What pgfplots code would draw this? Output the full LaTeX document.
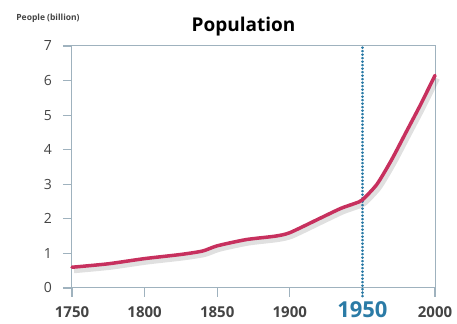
\documentclass[border=0pt]{standalone}
\usepackage{fontspec}
\setmainfont{Open Sans}
\usepackage{pgfplots}
\pgfplotsset{compat=1.18}
\definecolor{axisgray}{HTML}{9FB2BE}
\definecolor{popred}{HTML}{C7305E}
\definecolor{dotblue}{HTML}{2B7BA6}
\definecolor{labgray}{HTML}{444444}
\begin{document}
\begin{tikzpicture}
\begin{axis}[
  name=ax, scale only axis, width=363pt, height=242pt,
  xmin=1750, xmax=2000, ymin=0, ymax=7,
  axis line style={axisgray, line width=1pt},
  tick style={axisgray, line width=1.2pt},
  tick align=outside, major tick length=9pt,
  xtick pos=bottom, ytick pos=left,
  xtick={1750,1800,1850,1900,1950,2000},
  xticklabels={1750,1800,1850,1900,{\fontsize{22}{22}\selectfont\textcolor{dotblue}{1950}},2000},
  xticklabel style={anchor=base, yshift=-21pt, font=\bfseries\fontsize{15}{15}\selectfont, text=labgray},
  ytick={0,...,7},
  yticklabel style={anchor=east, inner sep=0pt, xshift=-11pt, font=\fontsize{14}{14}\selectfont, text=labgray},
  /pgf/number format/assume math mode=true,
  clip=false,
]
\addplot[black, opacity=0.12, line width=6pt, smooth, tension=0.4, yshift=-3pt, xshift=2pt, forget plot] coordinates {
(1750,0.6)(1775,0.7)(1800,0.85)(1825,0.97)(1840,1.07)(1850,1.22)(1870,1.4)(1890,1.5)(1900,1.6)(1920,2.0)(1935,2.3)(1945,2.45)(1950,2.55)(1960,3.0)(1970,3.7)(1980,4.5)(1990,5.3)(2000,6.15)};
\addplot[dotblue, line width=2.4pt, line cap=round, dash pattern=on 0.3pt off 3.2pt] coordinates {(1950,-0.24)(1950,7)};
\addplot[popred, line width=3.5pt, smooth, tension=0.4, line cap=round] coordinates {
(1750,0.6)(1775,0.7)(1800,0.85)(1825,0.97)(1840,1.07)(1850,1.22)(1870,1.4)(1890,1.5)(1900,1.6)(1920,2.0)(1935,2.3)(1945,2.45)(1950,2.55)(1960,3.0)(1970,3.7)(1980,4.5)(1990,5.3)(2000,6.15)};
\end{axis}
\node[font=\bfseries\fontsize{19}{19}\selectfont] at ([xshift=-10pt, yshift=19pt]ax.north) {Population};
\node[font=\bfseries\fontsize{8.5}{8.5}\selectfont, text=labgray] at ([xshift=-24pt, yshift=28pt]ax.north west) {People (billion)};
\path ([shift={(-72pt,-36pt)}]ax.south west) rectangle ([shift={(22pt,46pt)}]ax.north east);
\end{tikzpicture}
\end{document}
